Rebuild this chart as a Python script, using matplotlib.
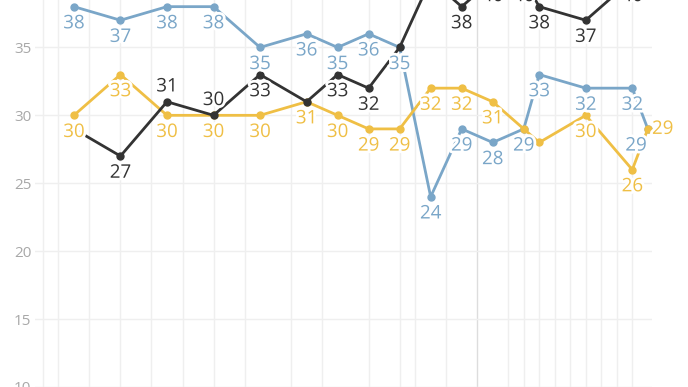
import matplotlib
matplotlib.use('Agg')
import matplotlib.pyplot as plt
import matplotlib.patheffects as pe

# poll positions along the time axis (units)
x = [0, 3, 6, 9, 12, 15, 17, 19, 21, 23, 25, 27, 29, 30, 33, 36, 37]

blue_vals = [38, 37, 38, 38, 35, 36, 35, 36, 35, 24, 29, 28, 29, 33, 32, 32, 29]
yellow_vals = [30, 33, 30, 30, 30, 31, 30, 29, 29, 32, 32, 31, 29, 28, 30, 26, 29]
black_vals = [29, 27, 31, 30, 33, 31, 33, 32, 35, 40, 38, 40, 40, 38, 37, 40, 40]

# where each value label sits: b = below, a = above, r = right, bl = below-left, '' = hidden
blue_pos = ['b'] * 16 + ['bl']
yellow_pos = ['b'] * 12 + ['', '', 'b', 'b', 'r']
black_pos = ['', 'b', 'a', 'a', 'b', '', 'b', 'b', '', '', 'b', 'b', 'b', 'b', 'b', 'b', '']

grid_x = [-2, -1, 1, 3, 5, 7, 9, 11, 14, 16, 19, 21, 22, 24, 26, 28, 29, 30,
          31, 32, 33, 34, 35, 36]
y_ticks = [10, 15, 20, 25, 30, 35]

BLUE = '#7aa6c8'
YELLOW = '#efbf45'
BLACK = '#333333'

plt.rcParams['font.family'] = ['Open Sans', 'DejaVu Sans']

fig = plt.figure(figsize=(6.88, 3.87), dpi=100)
ax = fig.add_axes([35 / 688, 0, (652 - 35) / 688, 1])
ax.set_xlim(-2.51, 37.27)
ax.set_ylim(10.16, 38.49)

for gx in grid_x:
    ax.axvline(gx, color='#dddddd' if gx == 26 else '#efefef', lw=1, zorder=0)
for gy in y_ticks:
    ax.axhline(gy, color='#efefef', lw=1, zorder=0)

ax.set_yticks(y_ticks)
ax.set_xticks([])
ax.tick_params(axis='y', length=0, pad=2.5, labelsize=11, labelcolor='#a8a8a8')
for s in ax.spines.values():
    s.set_visible(False)

offsets = {'b': (0, -12, 'center', 'center'),
           'a': (0, 11, 'center', 'center'),
           'r': (3, 0, 'left', 'center'),
           'bl': (-8.5, -12, 'center', 'center')}

halo = [pe.withStroke(linewidth=4, foreground='white')]

for vals, pos, col, z in [(blue_vals, blue_pos, BLUE, 2),
                          (yellow_vals, yellow_pos, YELLOW, 3),
                          (black_vals, black_pos, BLACK, 4)]:
    ax.plot(x, vals, color=col, lw=2, marker='o', ms=5, zorder=z,
            solid_joinstyle='round')
    for xi, v, p in zip(x, vals, pos):
        if not p:
            continue
        dx, dy, ha, va = offsets[p]
        ax.annotate(str(v), (xi, v), xytext=(dx, dy), textcoords='offset points',
                    ha=ha, va=va, fontsize=13.5, color=col, zorder=10,
                    annotation_clip=False, path_effects=halo)

fig.savefig('out.png', dpi=100)
